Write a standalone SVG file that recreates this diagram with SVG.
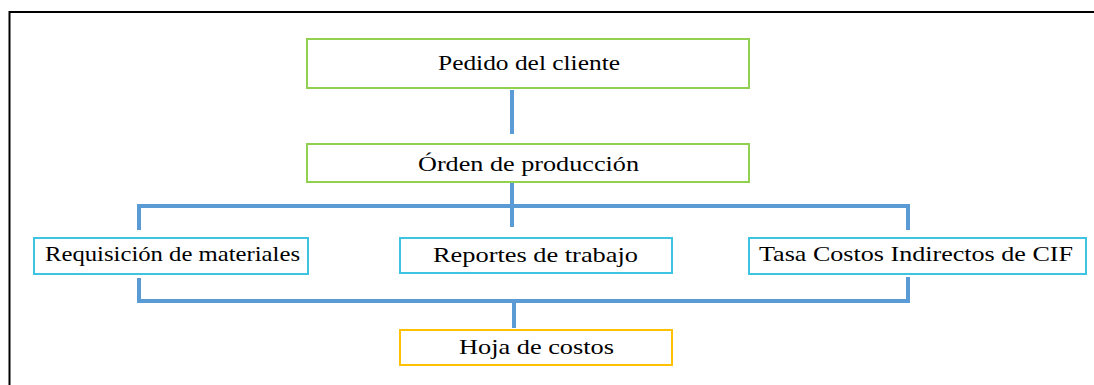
<svg xmlns="http://www.w3.org/2000/svg" width="1094" height="385" viewBox="0 0 1094 385">
<style>
.box{fill:#fff;stroke-width:2}
.g{stroke:#92D050}
.c{stroke:#3CC4E2}
.o{stroke:#FFC000}
.t{font-family:"Liberation Serif","Times New Roman",serif;font-size:21px;fill:#000}
.ln{fill:none;stroke:#5B9BD5;stroke-width:4}
</style>
<rect width="1094" height="385" fill="#fff"/>
<path d="M9.5,385 V12 H1094" fill="none" stroke="#000" stroke-width="2"/>
<g id="connectors">
<path class="ln" d="M512,90 V134"/>
<path class="ln" d="M512,183 V227"/>
<path class="ln" d="M139,230 V206 H908 V230"/>
<path class="ln" d="M139,278 V301 H908 V277"/>
<path class="ln" d="M514,301 V328"/>
</g>
<g id="pedido">
<rect class="box g" x="307" y="39" width="442" height="49"/>
<text class="t" x="438" y="70" textLength="182" lengthAdjust="spacingAndGlyphs">Pedido del cliente</text>
</g>
<g id="orden">
<rect class="box g" x="307" y="144" width="442" height="38"/>
<text class="t" x="418" y="171" textLength="221" lengthAdjust="spacingAndGlyphs">Órden de producción</text>
</g>
<g id="requisicion">
<rect class="box c" x="34" y="238" width="274" height="36"/>
<text class="t" x="45" y="261" textLength="255" lengthAdjust="spacingAndGlyphs">Requisición de materiales</text>
</g>
<g id="reportes">
<rect class="box c" x="400" y="238" width="272" height="35"/>
<text class="t" x="433" y="262" textLength="205" lengthAdjust="spacingAndGlyphs">Reportes de trabajo</text>
</g>
<g id="tasa">
<rect class="box c" x="749" y="238" width="337" height="36"/>
<text class="t" x="759" y="261" textLength="314" lengthAdjust="spacingAndGlyphs">Tasa Costos Indirectos de CIF</text>
</g>
<g id="hoja">
<rect class="box o" x="400" y="330" width="272" height="35"/>
<text class="t" x="459" y="354" textLength="155" lengthAdjust="spacingAndGlyphs">Hoja de costos</text>
</g>
</svg>
